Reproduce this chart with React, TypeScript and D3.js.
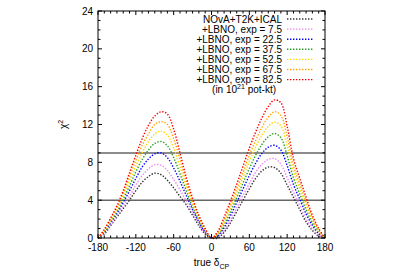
import React, { useEffect, useRef } from "react";
import * as d3 from "d3";

// true delta_CP grid (degrees)
const deltaCP = [
  -180, -170, -160, -150, -140, -130, -120, -110, -100, -90, -80, -70, -60, -50, -40, -30, -20, -10, 0,
  10, 20, 30, 40, 50, 60, 70, 80, 90, 100, 110, 120, 130, 140, 150, 160, 170, 180,
];

const chiNoLbno = [
  0, 0.4, 1.3, 2.2, 3.1, 4.0, 5.0, 5.9, 6.5, 6.85, 6.7, 6.1, 5.3, 4.4, 3.5, 2.4, 1.3, 0.4, 0,
  0, 0.6, 1.6, 2.8, 4.0, 5.2, 6.3, 7.1, 7.5, 7.45, 6.85, 5.6, 4.3, 3.0, 1.7, 0.8, 0.2, 0,
];
const chiExp7 = [
  0, 0.5, 1.4, 2.4, 3.4, 4.4, 5.6, 6.6, 7.3, 7.75, 7.7, 7.15, 6.2, 5.1, 3.9, 2.7, 1.5, 0.5, 0,
  0.1, 0.8, 1.9, 3.2, 4.5, 5.75, 6.95, 7.8, 8.3, 8.4, 7.8, 6.4, 4.85, 3.45, 2.05, 1.0, 0.3, 0,
];
const chiExp22 = [
  0, 0.6, 1.6, 2.6, 3.75, 5.0, 6.3, 7.5, 8.35, 8.9, 9.0, 8.5, 7.4, 6.0, 4.5, 3.0, 1.7, 0.6, 0,
  0.25, 1.1, 2.35, 3.75, 5.2, 6.6, 7.9, 8.95, 9.6, 9.8, 9.3, 7.65, 5.65, 4.1, 2.55, 1.35, 0.45, 0,
];
const chiExp37 = [
  0, 0.65, 1.7, 2.8, 4.1, 5.5, 7.0, 8.3, 9.3, 10.0, 10.2, 9.75, 8.5, 6.8, 5.0, 3.3, 1.9, 0.7, 0,
  0.35, 1.4, 2.75, 4.25, 5.8, 7.35, 8.75, 9.9, 10.7, 11.05, 10.6, 8.7, 6.35, 4.65, 3.0, 1.6, 0.6, 0,
];
const chiExp52 = [
  0, 0.75, 1.85, 3.0, 4.4, 6.0, 7.6, 9.0, 10.2, 11.0, 11.3, 10.9, 9.5, 7.5, 5.5, 3.6, 2.1, 0.8, 0,
  0.45, 1.65, 3.15, 4.75, 6.4, 8.1, 9.6, 10.85, 11.8, 12.25, 11.85, 9.75, 7.05, 5.2, 3.45, 1.9, 0.75, 0,
];
const chiExp67 = [
  0, 0.8, 2.0, 3.2, 4.7, 6.5, 8.2, 9.8, 11.0, 12.0, 12.3, 12.0, 10.5, 8.3, 5.9, 3.9, 2.2, 0.9, 0,
  0.55, 1.9, 3.5, 5.2, 6.95, 8.75, 10.3, 11.7, 12.75, 13.35, 12.95, 10.7, 7.65, 5.7, 3.85, 2.1, 0.85, 0,
];
const chiExp82 = [
  0, 0.9, 2.1, 3.4, 5.0, 6.9, 8.75, 10.5, 11.9, 12.9, 13.35, 13.1, 11.5, 9.0, 6.4, 4.2, 2.4, 1.0, 0,
  0.7, 2.2, 3.9, 5.7, 7.6, 9.5, 11.2, 12.7, 13.9, 14.6, 14.3, 11.8, 8.4, 6.3, 4.3, 2.4, 1.0, 0,
];

const seriesLabels = [
  "NOvA+T2K+ICAL",
  "+LBNO, exp = 7.5",
  "+LBNO, exp = 22.5",
  "+LBNO, exp = 37.5",
  "+LBNO, exp = 52.5",
  "+LBNO, exp = 67.5",
  "+LBNO, exp = 82.5",
];
const seriesColors = ["#333333", "#ee82ee", "#0000ff", "#22a022", "#ffd700", "#ffa500", "#ff0000"];
const seriesValues = [chiNoLbno, chiExp7, chiExp22, chiExp37, chiExp52, chiExp67, chiExp82];

const xTicks = [-180, -120, -60, 0, 60, 120, 180];
const yTicks = [0, 4, 8, 12, 16, 20, 24];
const refLevels = [4, 9];

function App() {
  const ref = useRef<SVGSVGElement>(null);

  useEffect(() => {
    const width = 400;
    const height = 279;
    const margin = { top: 11, right: 75, bottom: 41, left: 98 };
    const font = "'Liberation Sans', Arial, sans-serif";

    const svg = d3.select(ref.current);
    svg.selectAll("*").remove();

    const x = d3.scaleLinear().domain([-180, 180]).range([margin.left, width - margin.right]);
    const y = d3.scaleLinear().domain([0, 24]).range([height - margin.bottom, margin.top]);

    // reference lines
    svg.selectAll("line.ref")
      .data(refLevels)
      .enter()
      .append("line")
      .attr("x1", x(-180))
      .attr("x2", x(180))
      .attr("y1", (d) => y(d))
      .attr("y2", (d) => y(d))
      .attr("stroke", "#666")
      .attr("stroke-width", 1.5);

    // curves
    const line = d3
      .line<number>()
      .x((_, i) => x(deltaCP[i]))
      .y((d) => y(d))
      .curve(d3.curveCatmullRom.alpha(0.5));

    seriesValues.forEach((vals, k) => {
      svg.append("path")
        .attr("d", line(vals))
        .attr("fill", "none")
        .attr("stroke", seriesColors[k])
        .attr("stroke-width", 1.4)
        .attr("stroke-dasharray", "1.4 1.6");
    });

    // frame
    svg.append("rect")
      .attr("x", x(-180))
      .attr("y", y(24))
      .attr("width", x(180) - x(-180))
      .attr("height", y(0) - y(24))
      .attr("fill", "none")
      .attr("stroke", "#000")
      .attr("stroke-width", 1);

    // ticks (mirrored, inward)
    const ticks = svg.append("g").attr("stroke", "#000").attr("stroke-width", 1);
    d3.range(-180, 181, 10).forEach((v) => {
      const len = v % 60 === 0 ? 4 : 2.5;
      ticks.append("line").attr("x1", x(v)).attr("x2", x(v)).attr("y1", y(0)).attr("y2", y(0) - len);
      ticks.append("line").attr("x1", x(v)).attr("x2", x(v)).attr("y1", y(24)).attr("y2", y(24) + len);
    });
    d3.range(0, 25, 1).forEach((v) => {
      const len = v % 4 === 0 ? 4 : 2.5;
      ticks.append("line").attr("x1", x(-180)).attr("x2", x(-180) + len).attr("y1", y(v)).attr("y2", y(v));
      ticks.append("line").attr("x1", x(180)).attr("x2", x(180) - len).attr("y1", y(v)).attr("y2", y(v));
    });

    // tick labels
    svg.selectAll("text.xt")
      .data(xTicks)
      .enter()
      .append("text")
      .attr("x", (d) => x(d))
      .attr("y", y(0) + 13)
      .attr("text-anchor", "middle")
      .attr("font-family", font)
      .attr("font-size", 10)
      .text((d) => d);

    svg.selectAll("text.yt")
      .data(yTicks)
      .enter()
      .append("text")
      .attr("x", x(-180) - 5)
      .attr("y", (d) => y(d) + 3.5)
      .attr("text-anchor", "end")
      .attr("font-family", font)
      .attr("font-size", 10)
      .text((d) => d);

    // axis titles
    const xt = svg.append("text")
      .attr("x", x(0))
      .attr("y", 266)
      .attr("text-anchor", "middle")
      .attr("font-family", font)
      .attr("font-size", 10);
    xt.append("tspan").text("true δ");
    xt.append("tspan").attr("font-size", 7).attr("dy", 3).text("CP");

    const yt = svg.append("text")
      .attr("transform", `translate(67,${y(12)}) rotate(-90)`)
      .attr("text-anchor", "middle")
      .attr("font-family", font)
      .attr("font-size", 10);
    yt.append("tspan").text("χ");
    yt.append("tspan").attr("font-size", 7).attr("dy", -4).text("2");

    // legend
    const legend = svg.append("g");
    seriesLabels.forEach((lab, k) => {
      const ly = 19 + k * 10.1;
      legend.append("text")
        .attr("x", 282)
        .attr("y", ly + 3.5)
        .attr("text-anchor", "end")
        .attr("font-family", font)
        .attr("font-size", 10)
        .text(lab);
      legend.append("line")
        .attr("x1", 287)
        .attr("x2", 313)
        .attr("y1", ly)
        .attr("y2", ly)
        .attr("stroke", seriesColors[k])
        .attr("stroke-width", 1.4)
        .attr("stroke-dasharray", "1.4 1.6");
    });
    const note = legend.append("text")
      .attr("x", 276)
      .attr("y", 19 + 7 * 10.1 + 3.5)
      .attr("text-anchor", "end")
      .attr("font-family", font)
      .attr("font-size", 10);
    note.append("tspan").text("(in 10");
    note.append("tspan").attr("font-size", 7).attr("dy", -4).text("21");
    note.append("tspan").attr("dy", 4).text(" pot-kt)");
  }, []);

  return (
    <svg
      ref={ref}
      width={400}
      height={279}
      style={{ position: "absolute", left: 0, top: 0, background: "#fff" }}
    ></svg>
  );
}

export default App;
